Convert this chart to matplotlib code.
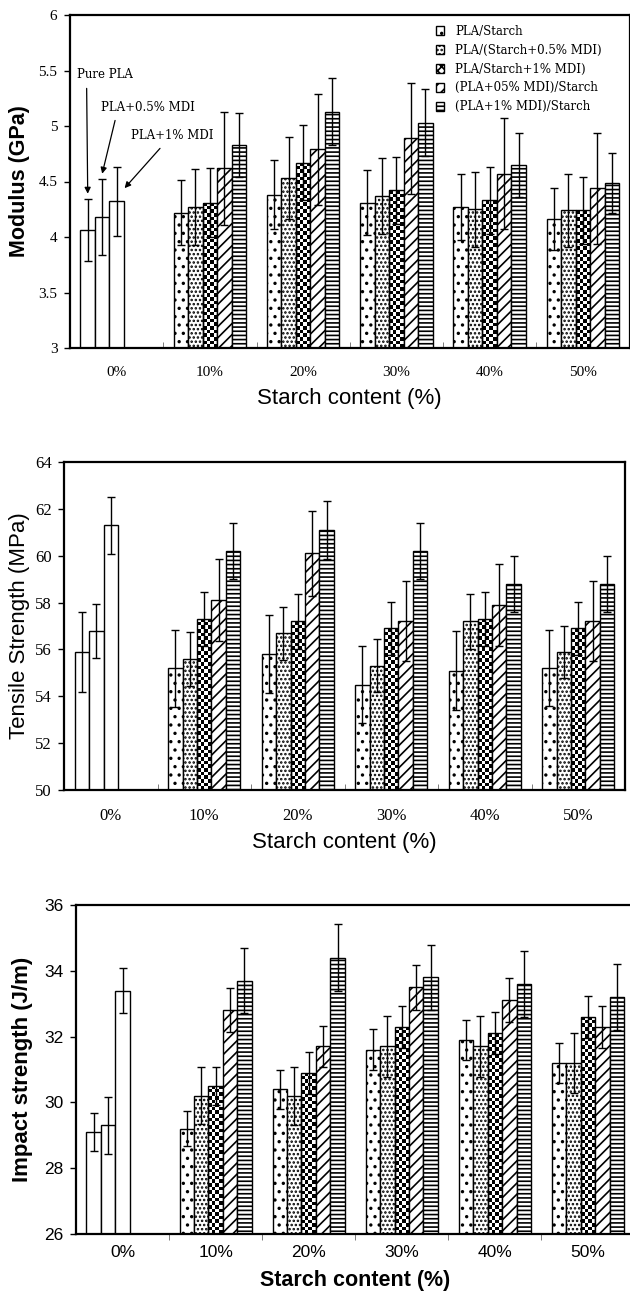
import numpy as np
import matplotlib
matplotlib.use("Agg")
import matplotlib.pyplot as plt
from matplotlib.patches import Patch

plt.rcParams['hatch.linewidth'] = 1.2
plt.rcParams['font.family'] = ['Liberation Sans', 'DejaVu Sans']

groups = ['0%', '10%', '20%', '30%', '40%', '50%']
series_names = ['PLA/Starch', 'PLA/(Starch+0.5% MDI)', 'PLA/Starch+1% MDI)',
                '(PLA+05% MDI)/Starch', '(PLA+1% MDI)/Starch']
pure_names = ['Pure PLA', 'PLA+0.5% MDI', 'PLA+1% MDI']

# modulus (GPa)
mod_pure = [4.06, 4.18, 4.32]
mod_pure_err = [0.28, 0.34, 0.31]
mod_s1 = [4.22, 4.38, 4.31, 4.27, 4.16]
mod_s1_err = [0.29, 0.31, 0.29, 0.30, 0.28]
mod_s2 = [4.27, 4.53, 4.37, 4.25, 4.24]
mod_s2_err = [0.34, 0.37, 0.34, 0.34, 0.33]
mod_s3 = [4.31, 4.67, 4.42, 4.33, 4.24]
mod_s3_err = [0.31, 0.34, 0.30, 0.30, 0.30]
mod_s4 = [4.62, 4.79, 4.89, 4.57, 4.44]
mod_s4_err = [0.51, 0.50, 0.50, 0.50, 0.50]
mod_s5 = [4.83, 5.13, 5.03, 4.65, 4.49]
mod_s5_err = [0.29, 0.30, 0.30, 0.29, 0.27]

# tensile strength (MPa)
ts_pure = [55.9, 56.8, 61.3]
ts_pure_err = [1.70, 1.15, 1.22]
ts_s1 = [55.2, 55.8, 54.5, 55.1, 55.2]
ts_s1_err = [1.65, 1.68, 1.65, 1.68, 1.63]
ts_s2 = [55.6, 56.7, 55.3, 57.2, 55.9]
ts_s2_err = [1.14, 1.13, 1.13, 1.18, 1.10]
ts_s3 = [57.3, 57.2, 56.9, 57.3, 56.9]
ts_s3_err = [1.15, 1.17, 1.14, 1.14, 1.14]
ts_s4 = [58.1, 60.1, 57.2, 57.9, 57.2]
ts_s4_err = [1.75, 1.80, 1.71, 1.74, 1.71]
ts_s5 = [60.2, 61.1, 60.2, 58.8, 58.8]
ts_s5_err = [1.18, 1.24, 1.18, 1.19, 1.19]

# impact strength (J/m)
imp_pure = [29.1, 29.3, 33.4]
imp_pure_err = [0.57, 0.87, 0.68]
imp_s1 = [29.2, 30.4, 31.6, 31.9, 31.2]
imp_s1_err = [0.54, 0.60, 0.62, 0.60, 0.62]
imp_s2 = [30.2, 30.2, 31.7, 31.7, 31.2]
imp_s2_err = [0.87, 0.88, 0.94, 0.94, 0.92]
imp_s3 = [30.5, 30.9, 32.3, 32.1, 32.6]
imp_s3_err = [0.59, 0.63, 0.64, 0.64, 0.64]
imp_s4 = [32.8, 31.7, 33.5, 33.1, 32.3]
imp_s4_err = [0.67, 0.62, 0.68, 0.67, 0.64]
imp_s5 = [33.7, 34.4, 33.8, 33.6, 33.2]
imp_s5_err = [0.99, 1.01, 0.98, 0.99, 1.01]

hatches = ['..', '....', None, '///', '----']
W = 0.155
SERIF = 'Liberation Serif'


def checker_fill(ax, bars, ncols=4):
    # checkerboard texture, clipped to each bar
    for p in bars:
        x0, y0, w, h = p.get_x(), p.get_y(), p.get_width(), p.get_height()
        (px0, py0), (px1, py1) = ax.transData.transform([(x0, y0), (x0 + w, y0 + h)])
        cell = (px1 - px0) / ncols
        nrows = max(1, int(round((py1 - py0) / cell)))
        grid = np.indices((nrows, ncols)).sum(axis=0) % 2
        im = ax.imshow(grid, extent=(x0, x0 + w, y0, y0 + h), origin='lower',
                       cmap='gray_r', vmin=0, vmax=1, interpolation='nearest',
                       aspect='auto', zorder=1.9)
        im.set_clip_path(p)


def panel(fig, rect, ylim, yticks, pure, pure_err, series, errs, tick_font, tick_size):
    ax = fig.add_axes(rect)
    ax.set_xlim(-0.5, 5.5)
    ax.set_ylim(*ylim)
    x = np.arange(len(groups))
    base = ylim[0]
    # 0% group: three plain bars
    xp = x[0] + (np.arange(3) - 2) * W
    ax.bar(xp, np.array(pure) - base, W, bottom=base, color='white',
           edgecolor='black', linewidth=1.0, zorder=2)
    ax.errorbar(xp, pure, yerr=pure_err, fmt='none', ecolor='black',
                elinewidth=1.0, capsize=3, capthick=1.0, zorder=3)
    conts = []
    for k, (vals, err) in enumerate(zip(series, errs)):
        xs = x[1:] + (k - 2) * W
        if hatches[k] is None:
            b = ax.bar(xs, np.array(vals) - base, W, bottom=base, facecolor='none',
                       edgecolor='black', linewidth=1.0, zorder=2)
            checker_fill(ax, b.patches)
        else:
            b = ax.bar(xs, np.array(vals) - base, W, bottom=base, color='white',
                       edgecolor='black', hatch=hatches[k], linewidth=1.0, zorder=2)
        conts.append(b)
        ax.errorbar(xs, vals, yerr=err, fmt='none', ecolor='black',
                    elinewidth=1.0, capsize=3, capthick=1.0, zorder=3)
    ax.set_xlim(-0.5, 5.5)
    ax.set_ylim(*ylim)
    ax.set_yticks(yticks)
    ax.set_yticklabels(['%g' % t for t in yticks], family=tick_font, fontsize=tick_size)
    ax.set_xticks(x)
    ax.set_xticklabels(groups, family=tick_font, fontsize=tick_size)
    ax.set_xticks(x[:-1] + 0.5, minor=True)
    ax.tick_params(axis='x', which='major', length=0, pad=13)
    ax.tick_params(axis='x', which='minor', length=4, direction='in', color='0.4')
    ax.tick_params(axis='y', length=4, width=1.0, pad=5)
    for s in ax.spines.values():
        s.set_linewidth(1.6)
    return ax, conts


fig = plt.figure(figsize=(6.3, 12.92), dpi=100)

# Modulus
ax1, conts = panel(fig, [70 / 630, 1 - 348 / 1292, 559.5 / 630, 333 / 1292], (3, 6),
                   [3, 3.5, 4, 4.5, 5, 5.5, 6], mod_pure, mod_pure_err,
                   [mod_s1, mod_s2, mod_s3, mod_s4, mod_s5],
                   [mod_s1_err, mod_s2_err, mod_s3_err, mod_s4_err, mod_s5_err],
                   SERIF, 11)
ax1.set_ylabel('Modulus (GPa)', fontsize=15.5, fontweight='bold')
ax1.yaxis.set_label_coords(-40 / 559.5, 0.5)
ax1.set_xlabel('Starch content (%)', fontsize=16)
ax1.xaxis.set_label_coords(0.5, -40 / 333)

handles = list(conts)
handles[2] = Patch(facecolor='white', edgecolor='black', hatch='xxxx')
ax1.legend(handles, series_names, loc='upper left', bbox_to_anchor=(0.645, 0.985),
           frameon=False, prop={'family': 'DejaVu Serif', 'size': 8.5},
           handlelength=0.75, handleheight=0.75, handletextpad=0.9, labelspacing=0.5,
           borderaxespad=0)

# arrows to the pure PLA bars
ann_text = [(-0.43, 5.46), (-0.17, 5.17), (0.15, 4.91)]
ann_rel = [(0.18, 0.0), (0.17, 0.0), (0.42, 0.0)]
for i in range(3):
    xb = (i - 2) * W
    tip = mod_pure[i] + mod_pure_err[i] + 0.05
    if i == 2:
        xb = xb + W * 0.55
        tip = mod_pure[i] + 0.12
    ax1.annotate(pure_names[i], xy=(xb, tip), xytext=ann_text[i], ha='left', va='center',
                 fontsize=8.5, family='DejaVu Serif',
                 arrowprops=dict(arrowstyle='-|>', color='black', lw=0.9,
                                 mutation_scale=9, relpos=ann_rel[i], shrinkA=3, shrinkB=0))

# Tensile strength
ax2, _ = panel(fig, [64 / 630, 1 - 790 / 1292, 561 / 630, 328 / 1292], (50, 64),
               list(range(50, 65, 2)), ts_pure, ts_pure_err,
               [ts_s1, ts_s2, ts_s3, ts_s4, ts_s5],
               [ts_s1_err, ts_s2_err, ts_s3_err, ts_s4_err, ts_s5_err],
               SERIF, 12)
ax2.set_ylabel('Tensile Strength (MPa)', fontsize=16)
ax2.yaxis.set_label_coords(-34 / 561, 0.5)
ax2.set_xlabel('Starch content (%)', fontsize=16)
ax2.xaxis.set_label_coords(0.5, -42 / 328)

# Impact strength
ax3, _ = panel(fig, [76 / 630, 1 - 1234 / 1292, 558.5 / 630, 329 / 1292], (26, 36),
               list(range(26, 37, 2)), imp_pure, imp_pure_err,
               [imp_s1, imp_s2, imp_s3, imp_s4, imp_s5],
               [imp_s1_err, imp_s2_err, imp_s3_err, imp_s4_err, imp_s5_err],
               'Liberation Sans', 12.5)
ax3.tick_params(axis='x', which='minor', direction='out')
ax3.tick_params(axis='x', which='major', pad=8)
ax3.set_ylabel('Impact strength (J/m)', fontsize=16, fontweight='bold')
ax3.yaxis.set_label_coords(-43 / 558.5, 0.5)
ax3.set_xlabel('Starch content (%)', fontsize=15.5, fontweight='bold')
ax3.xaxis.set_label_coords(0.5, -36 / 329)

fig.savefig('out.png', dpi=100)
